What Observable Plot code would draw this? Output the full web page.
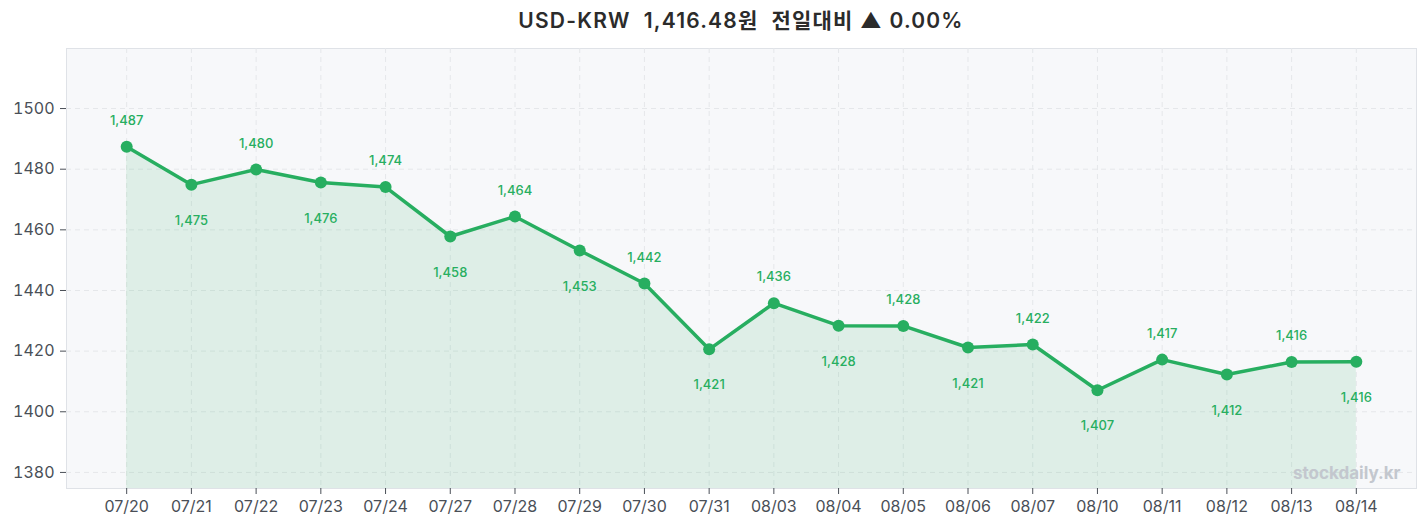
<!DOCTYPE html>
<html>
<head>
<meta charset="utf-8">
<script src="https://cdn.jsdelivr.net/npm/d3@7"></script>
<script src="https://cdn.jsdelivr.net/npm/@observablehq/plot@0.6"></script>
<style>
  body { margin: 0; background: #fff; font-family: Inter, "Noto Sans CJK KR", sans-serif; }
  #title { height: 40px; line-height: 42px; text-align: center; font-size: 21px; font-weight: 600; color: #2b2b2b; margin-left: 66px; width: 1350px; letter-spacing: 1.2px; white-space: pre; }
</style>
</head>
<body>
<div id="title">USD-KRW  1,416.48원  전일대비 ▲ 0.00%</div>
<div id="chart"></div>
<script>
const dates = ["07/20","07/21","07/22","07/23","07/24","07/27","07/28","07/29","07/30","07/31",
               "08/03","08/04","08/05","08/06","08/07","08/10","08/11","08/12","08/13","08/14"];
const rates = [1487.4, 1474.9, 1479.9, 1475.6, 1474.1, 1457.8, 1464.4, 1453.2, 1442.3, 1420.6,
               1435.8, 1428.4, 1428.3, 1421.2, 1422.2, 1407.1, 1417.2, 1412.3, 1416.4, 1416.48];
const yTicks = [1380, 1400, 1420, 1440, 1460, 1480, 1500];
const yDomain = [1374.7, 1519.8];
const watermark = "stockdaily.kr";

const data = dates.map((d, i) => ({date: d, value: rates[i], i}));
const green = "#27ae60";
const fmt = d3.format(",.0f");

const chart = Plot.plot({
  width: 1427,
  height: 489,
  marginTop: 8,
  marginBottom: 41,
  marginLeft: 66,
  marginRight: 11,
  style: {fontFamily: 'Inter, "Noto Sans CJK KR", sans-serif', background: "transparent"},
  x: {type: "point", domain: dates, padding: 0.93, round: false, label: null},
  y: {domain: yDomain, label: null},
  marks: [
    Plot.frame({fill: "#f7f8fa", stroke: "#dfe2e7"}),
    Plot.gridY(yTicks, {stroke: "#e5e7ea", strokeOpacity: 1, strokeDasharray: "5,4"}),
    Plot.gridX(dates, {stroke: "#e5e7ea", strokeOpacity: 1, strokeDasharray: "5,4"}),
    Plot.areaY(data, {x: "date", y1: yDomain[0], y2: "value", fill: green, fillOpacity: 0.12}),
    Plot.line(data, {x: "date", y: "value", stroke: green, strokeWidth: 3.5}),
    Plot.dot(data, {x: "date", y: "value", r: 6, fill: green}),
    Plot.text(data.filter(d => d.i % 2 === 0), {x: "date", y: "value", text: d => fmt(d.value), dy: -26, fill: green, fontSize: 13, fontWeight: 500}),
    Plot.text(data.filter(d => d.i % 2 === 1), {x: "date", y: "value", text: d => fmt(d.value), dy: 36, fill: green, fontSize: 13, fontWeight: 500}),
    Plot.axisY(yTicks, {tickSize: 6, tickPadding: 6, tickFormat: d => String(d), fontSize: 16, fill: "#4a4f57", stroke: "#4a4f57"}),
    Plot.axisX(dates, {tickSize: 6, tickPadding: 6, fontSize: 16, fill: "#4a4f57", stroke: "#4a4f57"}),
    Plot.text([watermark], {text: d => d, frameAnchor: "bottom-right", dx: -16, dy: -10, fill: "#c3c7ce", fontSize: 17, fontWeight: 700})
  ]
});
document.getElementById("chart").appendChild(chart);
</script>
</body>
</html>
